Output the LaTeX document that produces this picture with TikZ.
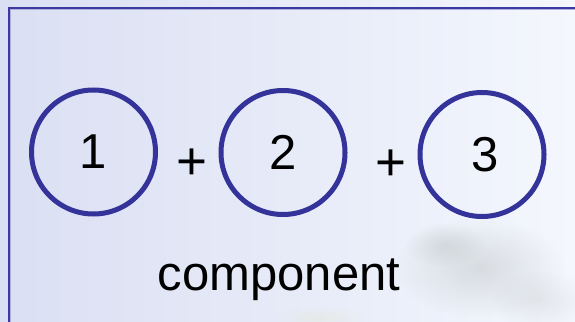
\documentclass[tikz,border=0pt]{standalone}
\usepackage{fontspec}
\setmainfont{Liberation Sans}
\usetikzlibrary{fadings}
\definecolor{bgleft}{HTML}{DADFF3}
\definecolor{bgright}{HTML}{F4F7FD}
\definecolor{frameblue}{HTML}{3A3AA2}
\definecolor{ringblue}{HTML}{333399}
\definecolor{blobgray}{HTML}{B4BAB8}
\tikzset{
  ring/.style={circle, draw=ringblue, line width=5pt, minimum size=124pt, inner sep=0pt,
    font=\fontsize{49}{56}\selectfont, text=black},
  bigtext/.style={font=\fontsize{49}{56}\selectfont, text=black, inner sep=0pt, anchor=base},
  plustext/.style={font=\fontsize{53}{60}\selectfont, text=black, inner sep=0pt, anchor=base},
  blob/.style={fill=blobgray, path fading=fuzzyedge}
}
\tikzfading[name=fuzzyedge, inner color=transparent!0, outer color=transparent!100]
\begin{document}
\begin{tikzpicture}[x=1pt,y=-1pt]
  \useasboundingbox (0,0) rectangle (575,321);
  % background
  \shade[left color=bgleft, right color=bgright] (0,0) rectangle (575,321);
  % faint blurred blobs (bottom right)
  \fill[blob, opacity=0.40] (480,268) ellipse (85pt and 50pt);
  \fill[blob, opacity=0.35] (445,245) ellipse (40pt and 22pt);
  \fill[blob, opacity=0.25] (540,300) ellipse (50pt and 30pt);
  \fill[fill=blobgray!70!yellow!60!white, path fading=fuzzyedge, opacity=0.25] (320,318) ellipse (45pt and 12pt);
  % frame
  \draw[frameblue, line width=1.6pt] (9,8) rectangle (590,340);
  \draw[frameblue!40!white, line width=0.6pt] (10.4,9.4) rectangle (590,340);
  % circles
  \node[ring] (c1) at (93.5,152) {\raisebox{-2pt}{\hspace{-1pt}1}};
  \node[ring] (c2) at (283,152.5) {\raisebox{-2pt}{2}};
  \node[ring] (c3) at (482,154.5) {\raisebox{-2pt}{\hspace{6pt}3}};
  % plus signs
  \node[plustext] (p1) at (192,179) {+};
  \node[plustext] (p2) at (391,180) {+};
  % label
  \node[bigtext] (lab) at (279,290) {component};
\end{tikzpicture}
\end{document}
